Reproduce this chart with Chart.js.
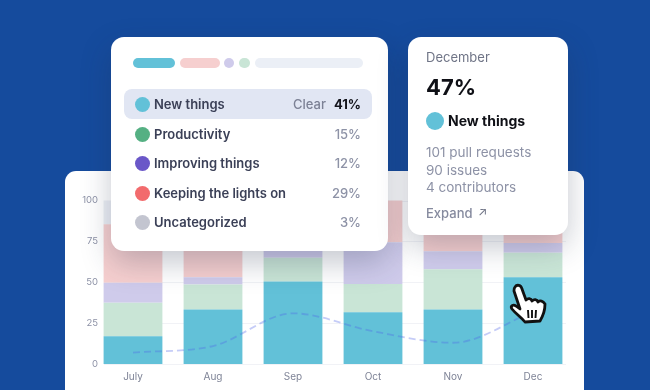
<!DOCTYPE html>
<html lang="en">
<head>
<meta charset="UTF-8">
<title>Work breakdown</title>
<script src="https://cdn.jsdelivr.net/npm/chart.js"></script>
<style>
  html, body { margin: 0; padding: 0; }
  body { width: 650px; height: 390px; background: #154b9d; position: relative; overflow: hidden; font-family: Inter, sans-serif; }
  #panel { position: absolute; left: 65px; top: 171px; width: 519px; height: 240px; background: #fff; border-radius: 11px; }
  #chart { position: absolute; left: 0; top: 0; }
  .card { position: absolute; top: 37px; background: #fff; border-radius: 13px; box-shadow: 0 12px 30px rgba(35, 45, 75, .26); }
  #left { left: 111px; width: 277px; height: 214px; }
  #right { left: 408px; width: 160px; height: 198px; }
  .abs { position: absolute; white-space: nowrap; line-height: 16px; }
  .pill { position: absolute; top: 21px; height: 10px; border-radius: 5px; }
  .dot { position: absolute; border-radius: 50%; }
  #hilite { position: absolute; left: 13px; top: 52px; width: 248px; height: 30px; border-radius: 8px; background: #e1e6f3; }
  #cursor { position: absolute; left: 505px; top: 281px; }
</style>
</head>
<body>
<div id="panel"></div>
<canvas id="chart" width="650" height="390"></canvas>
<div class="card" id="left"><div id="hilite"></div></div>
<div class="card" id="right"></div>
<svg id="cursor" width="48" height="46" viewBox="0 0 48 46">
  <path d="M10 6 C12 3 16 4 17 8 L21 19 C23 17 26 17 27 20 C29 18 32 18 33 21 C35 19 38 20 40 23 C40 30 38 35 35 40 L20 41 C16 36 11 33 7 28 C5 25 8 23 11 25 L15 28 L9 10 C9 8 9 7 10 6 Z" fill="#fff" stroke="#111" stroke-width="2.8" stroke-linejoin="round"/>
  <path d="M23 29 L23.5 37 M27 29 L27 37 M31 29 L30.5 37" stroke="#111" stroke-width="1.9" fill="none"/>
</svg>
<script>
const months = ['July', 'Aug', 'Sep', 'Oct', 'Nov', 'Dec'];
const yTicks = [0, 25, 50, 75, 100];
const newThings = [17, 33.3, 50.5, 31.7, 33.3, 53];
const productivity = [20.4, 15.3, 14.5, 17.3, 24.6, 15];
const improving = [12.3, 4.4, 8, 25.4, 11.1, 6];
const keepingLights = [35.8, 42, 20, 25.6, 26, 18];
const uncategorized = [14.5, 5, 7, 0, 5, 8];
const trend = [7, 11, 31, 20, 13, 32];

const legendNames = ['New things', 'Productivity', 'Improving things', 'Keeping the lights on', 'Uncategorized'];
const legendPercents = ['41%', '15%', '12%', '29%', '3%'];
const legendColors = ['#62c1d8', '#55b083', '#6a57c8', '#f26b6d', '#c3c5d0'];
const legendRows = [67, 97, 126, 156, 185];
const tipMonth = 'December';
const tipPercent = '47%';
const tipStats = ['101 pull requests', '90 issues', '4 contributors'];

function addText(parent, text, x, y, size, weight, color, right) {
  const el = document.createElement('div');
  el.className = 'abs';
  el.textContent = text;
  el.style.top = (y - 8) + 'px';
  if (right) el.style.right = x + 'px'; else el.style.left = x + 'px';
  el.style.fontSize = size + 'px';
  el.style.fontWeight = weight;
  el.style.color = color;
  parent.appendChild(el);
  return el;
}
function addDot(parent, cx, cy, d, color) {
  const el = document.createElement('div');
  el.className = 'dot';
  el.style.cssText = 'left:' + (cx - d / 2) + 'px;top:' + (cy - d / 2) + 'px;width:' + d + 'px;height:' + d + 'px;background:' + color;
  parent.appendChild(el);
}

// left card
const left = document.getElementById('left');
[[22, 42, '#62c1d8'], [69, 40, '#f6cfcf'], [113, 10, '#cfcbeb'], [128, 11, '#c9e5d6'], [144, 108, '#ebeff6']].forEach(p => {
  const el = document.createElement('div');
  el.className = 'pill';
  el.style.left = p[0] + 'px';
  el.style.width = p[1] + 'px';
  el.style.background = p[2];
  left.appendChild(el);
});
legendNames.forEach((name, i) => {
  const y = legendRows[i];
  addDot(left, 31.5, y, 15, legendColors[i]);
  addText(left, name, 43, y, 13, 600, '#3b4057');
  if (i === 0) {
    addText(left, 'Clear', 62, y, 13, 500, '#7c8195', true);
    addText(left, legendPercents[i], 27, y, 13, 700, '#14151c', true);
  } else {
    addText(left, legendPercents[i], 27, y, 13, 500, '#8d92a6', true);
  }
});

// right card
const right = document.getElementById('right');
addText(right, tipMonth, 18, 20, 13, 400, '#6f7486');
addText(right, tipPercent, 18, 50, 22, 700, '#0f1016');
addDot(right, 27, 84, 18, legendColors[0]);
addText(right, legendNames[0], 40, 84, 14, 700, '#0f1016');
tipStats.forEach((s, i) => addText(right, s, 18, 115 + i * 17.5, 13.5, 400, '#8d92a6'));
addText(right, 'Expand', 18, 176, 13, 500, '#858a9e');
addText(right, '↗', 70, 175, 12, 400, '#6f7486');

// faint grid only across the bars, like the original
const shortGrid = {
  id: 'shortGrid',
  beforeDatasetsDraw(chart) {
    const { ctx, scales: { y } } = chart;
    ctx.save();
    ctx.strokeStyle = '#f1f2f6';
    ctx.lineWidth = 1;
    yTicks.forEach(v => {
      const py = Math.round(y.getPixelForValue(v)) + 0.5;
      ctx.beginPath();
      ctx.moveTo(104, py);
      ctx.lineTo(566, py);
      ctx.stroke();
    });
    ctx.restore();
  }
};

function barSet(label, data, color) {
  return { type: 'bar', label, data, backgroundColor: color, stack: 'work', clip: false, barPercentage: 1, categoryPercentage: 0.735, order: 2 };
}

new Chart(document.getElementById('chart'), {
  data: {
    labels: months,
    datasets: [
      barSet('New things', newThings, '#62c1d8'),
      barSet('Productivity', productivity, '#c9e5d6'),
      barSet('Improving things', improving, '#cfcbeb'),
      barSet('Keeping the lights on', keepingLights, '#f6cfcf'),
      barSet('Uncategorized', uncategorized, '#eceff5'),
      {
        type: 'line', label: 'Trend', data: trend, stack: 'trend', order: 1,
        borderColor: 'rgba(80, 100, 230, 0.33)', borderWidth: 1.8, borderDash: [7, 4],
        pointRadius: 0, cubicInterpolationMode: 'monotone', fill: false
      }
    ]
  },
  options: {
    responsive: false,
    animation: false,
    layout: { padding: { top: 200.5, right: 117, left: 0, bottom: 0 } },
    plugins: { legend: { display: false }, tooltip: { enabled: false } },
    scales: {
      x: {
        offset: false,
        stacked: true,
        grid: { display: false, drawTicks: false },
        border: { display: false },
        ticks: { color: '#7f8497', font: { family: 'Inter', size: 10 }, padding: 7, maxRotation: 0 },
        afterFit(s) { s.height = 26; }
      },
      y: {
        stacked: true, min: 0, max: 100,
        afterBuildTicks(s) { s.ticks = yTicks.map(v => ({ value: v })); },
        grid: { display: false, drawTicks: false },
        border: { display: false },
        ticks: { color: '#8d92a6', font: { family: 'Inter', size: 9.5 }, padding: 35 },
        // the wide tick padding would otherwise also eat the bottom of the plot
        afterFit(s) { s.width = 133; s.paddingBottom = 0; s.paddingTop = 0; }
      }
    }
  },
  plugins: [shortGrid]
});
</script>
</body>
</html>
